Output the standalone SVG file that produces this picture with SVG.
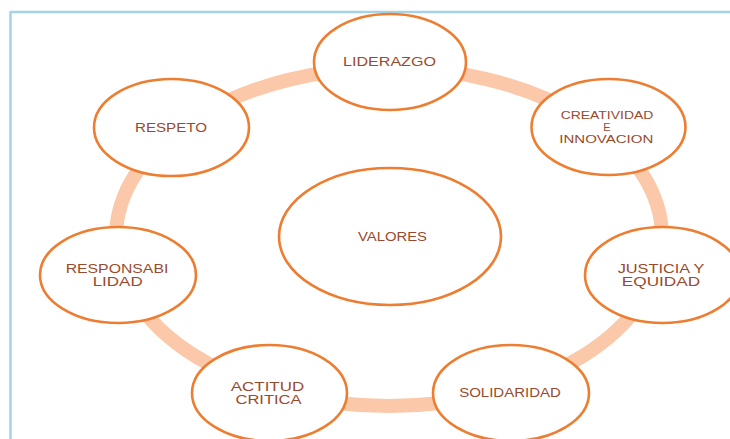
<svg xmlns="http://www.w3.org/2000/svg" width="730" height="439" viewBox="0 0 730 439">
<style>
.node{fill:#ffffff;stroke:#ed7d31;stroke-width:2.6}
.lbl{font-family:"Liberation Sans",Arial,sans-serif;font-size:12px;fill:#9a4a2c;text-anchor:middle}
.sm{font-size:11px}
</style>
<rect x="0" y="0" width="730" height="439" fill="#ffffff"/>
<g id="frame">
<line x1="10" y1="12" x2="730" y2="12" stroke="#a3d4e6" stroke-width="2.5"/>
<line x1="10.5" y1="11" x2="10.5" y2="439" stroke="#a3d4e6" stroke-width="2.5"/>
</g>
<g id="connectors">
<ellipse cx="389" cy="237" rx="273" ry="169" fill="none" stroke="#fbc8aa" stroke-width="14"/>
</g>
<g id="valores">
<ellipse class="node" cx="390" cy="236.5" rx="111" ry="68.5"/>
<text class="lbl" x="392.5" y="241" textLength="69" lengthAdjust="spacingAndGlyphs">VALORES</text>
</g>
<g id="liderazgo">
<ellipse class="node" cx="390" cy="62" rx="76" ry="48"/>
<text class="lbl" x="389.5" y="66" textLength="93" lengthAdjust="spacingAndGlyphs">LIDERAZGO</text>
</g>
<g id="creatividad">
<ellipse class="node" cx="608.5" cy="127" rx="77" ry="48"/>
<text class="lbl sm" x="607" y="119" textLength="92.6" lengthAdjust="spacingAndGlyphs">CREATIVIDAD</text>
<text class="lbl sm" x="607" y="131">E</text>
<text class="lbl sm" x="606.3" y="143" textLength="94" lengthAdjust="spacingAndGlyphs">INNOVACION</text>
</g>
<g id="justicia">
<ellipse class="node" cx="662.5" cy="275" rx="77.5" ry="48"/>
<text class="lbl" x="661" y="273" textLength="86.7" lengthAdjust="spacingAndGlyphs">JUSTICIA Y</text>
<text class="lbl" x="661" y="286" textLength="78.3" lengthAdjust="spacingAndGlyphs">EQUIDAD</text>
</g>
<g id="solidaridad">
<ellipse class="node" cx="511" cy="393" rx="78" ry="48"/>
<text class="lbl" x="510" y="397" textLength="101.7" lengthAdjust="spacingAndGlyphs">SOLIDARIDAD</text>
</g>
<g id="actitud">
<ellipse class="node" cx="269.5" cy="393" rx="77.5" ry="48"/>
<text class="lbl" x="267.5" y="391" textLength="73.3" lengthAdjust="spacingAndGlyphs">ACTITUD</text>
<text class="lbl" x="268.5" y="404" textLength="66" lengthAdjust="spacingAndGlyphs">CRITICA</text>
</g>
<g id="responsabilidad">
<ellipse class="node" cx="118" cy="275" rx="78" ry="48"/>
<text class="lbl" x="117" y="273" textLength="102.7" lengthAdjust="spacingAndGlyphs">RESPONSABI</text>
<text class="lbl" x="117.7" y="286" textLength="50" lengthAdjust="spacingAndGlyphs">LIDAD</text>
</g>
<g id="respeto">
<ellipse class="node" cx="171.5" cy="127.5" rx="77.5" ry="48.5"/>
<text class="lbl" x="171" y="132" textLength="72" lengthAdjust="spacingAndGlyphs">RESPETO</text>
</g>
</svg>
